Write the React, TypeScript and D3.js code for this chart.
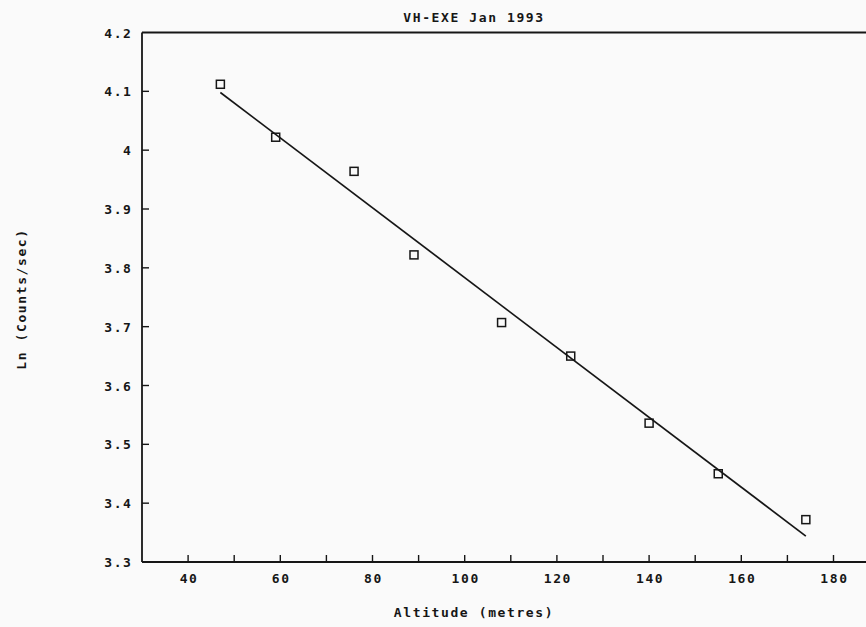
import React, { useEffect, useRef } from "react";
import * as d3 from "d3";

// Altitude (m) vs natural log of count rate
const altitude = [47, 59, 76, 89, 108, 123, 140, 155, 174];
const lnCounts = [4.112, 4.022, 3.964, 3.822, 3.707, 3.65, 3.536, 3.45, 3.372];

// Least-squares fit line endpoints
const fitX = [47, 174];
const fitY = [4.098, 3.344];

const xTicks = [40, 50, 60, 70, 80, 90, 100, 110, 120, 130, 140, 150, 160, 170, 180];
const xTickLabels = [40, 60, 80, 100, 120, 140, 160, 180];
const yTicks = [3.4, 3.5, 3.6, 3.7, 3.8, 3.9, 4.0, 4.1];
const yTickLabels = [3.3, 3.4, 3.5, 3.6, 3.7, 3.8, 3.9, 4.0, 4.1, 4.2];

const W = 866;
const H = 627;
const FONT = "'DejaVu Sans Mono', monospace";

export default function App() {
  const ref = useRef<SVGSVGElement | null>(null);

  useEffect(() => {
    const svg = d3.select(ref.current);
    svg.selectAll("*").remove();

    const x = d3.scaleLinear().domain([30, 190]).range([142, 879.6]);
    const y = d3.scaleLinear().domain([3.3, 4.2]).range([562, 32.5]);

    svg.append("rect").attr("width", W).attr("height", H).attr("fill", "#fafafa");

    const ink = "#161616";

    // frame: left, top, bottom
    const frame = svg.append("g").attr("stroke", ink).attr("stroke-width", 1.8).attr("fill", "none");
    frame.append("line").attr("x1", x(30)).attr("x2", x(30)).attr("y1", y(4.2)).attr("y2", y(3.3));
    frame.append("line").attr("x1", x(30)).attr("x2", x(190)).attr("y1", y(4.2)).attr("y2", y(4.2));
    frame.append("line").attr("x1", x(30)).attr("x2", x(190)).attr("y1", y(3.3)).attr("y2", y(3.3));

    // inward ticks
    frame.selectAll(".xt").data(xTicks).enter().append("line")
      .attr("x1", (d) => x(d)).attr("x2", (d) => x(d))
      .attr("y1", y(3.3)).attr("y2", y(3.3) - 7).attr("stroke-width", 1.4);
    frame.selectAll(".yt").data(yTicks).enter().append("line")
      .attr("x1", x(30)).attr("x2", x(30) + 7)
      .attr("y1", (d) => y(d)).attr("y2", (d) => y(d)).attr("stroke-width", 1.4);

    const text = svg.append("g").attr("fill", ink).attr("font-family", FONT)
      .attr("font-size", 13).attr("font-weight", "bold").attr("letter-spacing", 1.6);

    text.selectAll(".xl").data(xTickLabels).enter().append("text")
      .attr("x", (d) => x(d) + 1).attr("y", 583).attr("text-anchor", "middle")
      .text((d) => String(d));

    text.selectAll(".yl").data(yTickLabels).enter().append("text")
      .attr("x", 132.5).attr("y", (d) => y(d) + 5).attr("text-anchor", "end")
      .text((d) => d3.format("")(+d.toFixed(1)));

    text.append("text").attr("x", 474).attr("y", 22).attr("text-anchor", "middle")
      .text("VH-EXE Jan 1993");
    text.append("text").attr("x", 474).attr("y", 617).attr("text-anchor", "middle")
      .text("Altitude (metres)");
    text.append("text").attr("transform", `translate(26,299) rotate(-90)`)
      .attr("text-anchor", "middle").text("Ln (Counts/sec)");

    // fit line
    const line = d3.line<number>().x((d) => x(fitX[d])).y((d) => y(fitY[d]));
    svg.append("path").attr("d", line([0, 1])).attr("stroke", ink)
      .attr("stroke-width", 1.7).attr("fill", "none");

    // observed points as open squares
    const s = 8;
    svg.selectAll(".pt").data(altitude).enter().append("rect")
      .attr("x", (d) => x(d) - s / 2)
      .attr("y", (_d, i) => y(lnCounts[i]) - s / 2)
      .attr("width", s).attr("height", s)
      .attr("fill", "none").attr("stroke", ink).attr("stroke-width", 1.5);
  }, []);

  return (
    <svg ref={ref} width={W} height={H}
      style={{ position: "absolute", left: 0, top: 0, display: "block" }} />
  );
}
